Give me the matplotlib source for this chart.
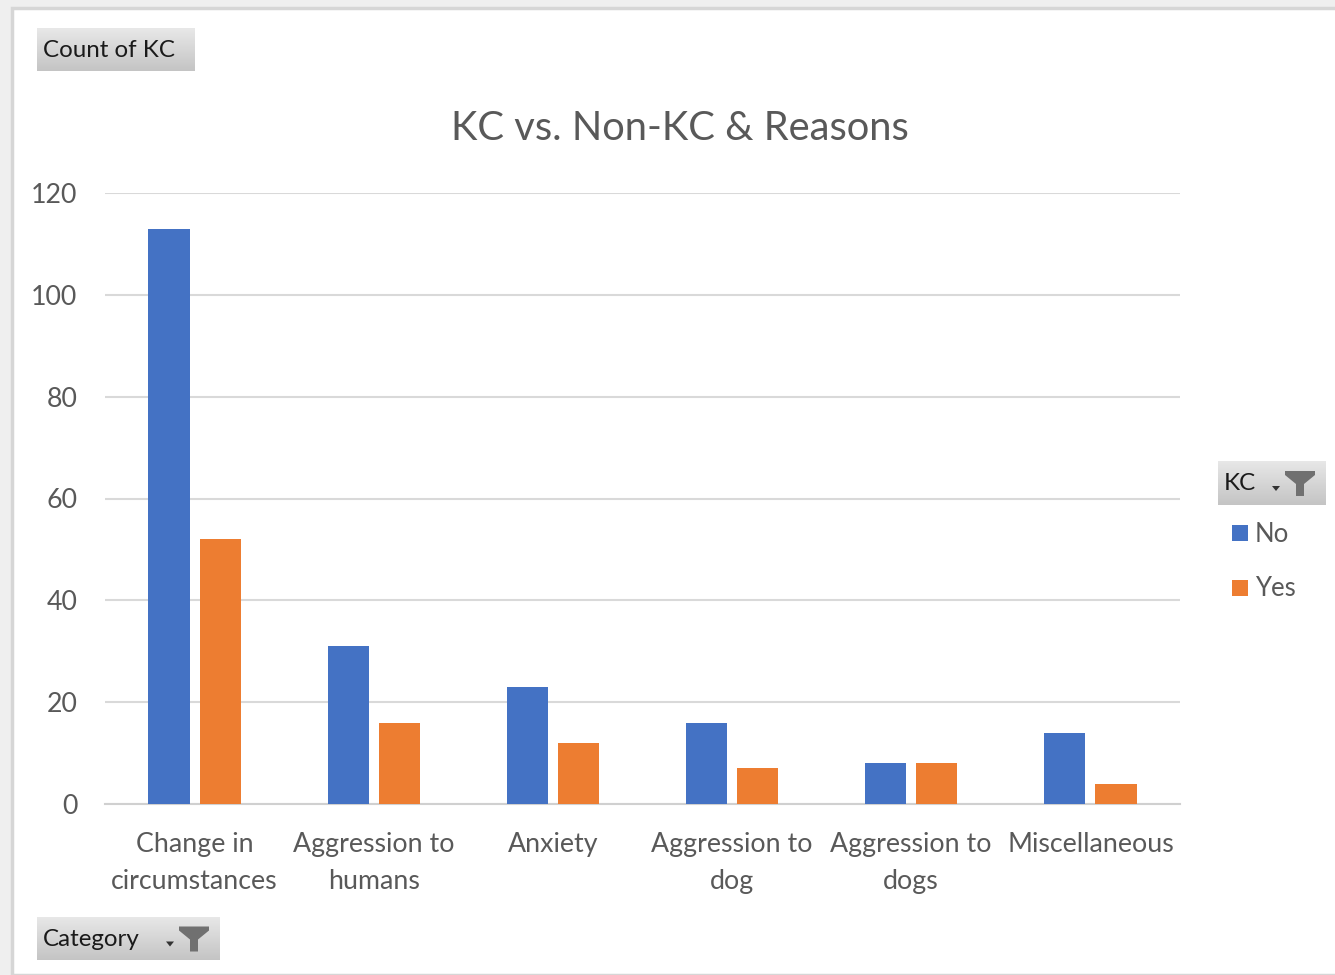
import numpy as np
import matplotlib

matplotlib.use("Agg")
import matplotlib.pyplot as plt
from matplotlib.patches import Rectangle, Polygon

plt.rcParams["font.family"] = ["Lato", "DejaVu Sans"]

categories = ["Change in\ncircumstances", "Aggression to\nhumans", "Anxiety",
              "Aggression to\ndog", "Aggression to\ndogs", "Miscellaneous"]
no_counts = [113, 31, 23, 16, 8, 14]
yes_counts = [52, 16, 12, 7, 8, 4]
series_names = ["No", "Yes"]
yticks = [0, 20, 40, 60, 80, 100, 120]

BLUE = "#4472C4"
ORANGE = "#ED7D31"
GREY_TXT = "#595959"

W, H = 1335, 975
fig = plt.figure(figsize=(W / 100, H / 100), dpi=100, facecolor="#efefef")


def fx(px):
    return px / W


def fy(py):
    return 1 - py / H


# white chart panel with light border (behind everything)
fig.patches.append(Rectangle((fx(12), 0), 1, fy(8), transform=fig.transFigure,
                             facecolor="white", edgecolor="#d6d6d6", linewidth=2.5,
                             zorder=-10))

ax = fig.add_axes([fx(105), fy(804), fx(1180) - fx(105), fy(193) - fy(804)])
x = np.arange(len(categories))
bw = 0.23
off = 0.143
ax.bar(x - off, no_counts, bw, color=BLUE, label=series_names[0], zorder=3)
ax.bar(x + off, yes_counts, bw, color=ORANGE, label=series_names[1], zorder=3)
ax.set_xlim(-0.5, len(categories) - 0.5)
ax.set_ylim(0, 120)
ax.set_yticks(yticks)
ax.set_xticks(x)
ax.set_xticklabels(categories, fontsize=19.3, color=GREY_TXT, linespacing=1.6)
ax.tick_params(axis="y", labelsize=19.3, labelcolor=GREY_TXT, length=0, pad=20)
ax.tick_params(axis="x", length=0, pad=20)
ax.grid(axis="y", color="#d9d9d9", linewidth=1.5, zorder=0)
for s in ["top", "right", "left"]:
    ax.spines[s].set_visible(False)
ax.spines["bottom"].set_color("#d0d0d0")
ax.spines["bottom"].set_linewidth(1.5)
ax.patch.set_alpha(0)

fig.text(fx(680), fy(129), "KC vs. Non-KC & Reasons", ha="center", va="center",
         fontsize=28.7, color=GREY_TXT)


def button(x0, y0, x1, y1, label, funnel=False):
    bax = fig.add_axes([fx(x0), fy(y1), fx(x1) - fx(x0), fy(y0) - fy(y1)])
    grad = np.linspace(0.91, 0.77, 50)[:, None]
    bax.imshow(np.dstack([grad, grad, grad]), aspect="auto", extent=[0, 1, 0, 1],
               origin="upper")
    bax.set_xlim(0, 1)
    bax.set_ylim(0, 1)
    bax.axis("off")
    fig.text(fx(x0 + 6), fy((y0 + y1) / 2 + 1), label, ha="left", va="center",
             fontsize=17.4, color="#1a1a1a", zorder=5)
    if funnel:
        cx = x1 - 26
        cy = (y0 + y1) / 2
        pts = [(cx - 15, cy - 12), (cx + 15, cy - 12), (cx + 15, cy - 8),
               (cx + 4, cy + 1), (cx + 4, cy + 13), (cx - 4, cy + 13),
               (cx - 4, cy + 1), (cx - 15, cy - 8)]
        fig.patches.append(Polygon([(fx(a), fy(b)) for a, b in pts],
                                   transform=fig.transFigure, facecolor="#707070",
                                   edgecolor="none", zorder=5))
        tx = cx - 24
        tri = [(tx - 4, cy + 3), (tx + 4, cy + 3), (tx, cy + 8)]
        fig.patches.append(Polygon([(fx(a), fy(b)) for a, b in tri],
                                   transform=fig.transFigure, facecolor="#333333",
                                   edgecolor="none", zorder=5))


button(37, 28, 195, 71, "Count of KC")
button(37, 917, 220, 960, "Category", funnel=True)
button(1218, 461, 1326, 505, "KC", funnel=True)

# legend entries
for py, col, name in [(533, BLUE, series_names[0]), (588, ORANGE, series_names[1])]:
    fig.patches.append(Rectangle((fx(1232), fy(py + 8)), fx(16), fy(0) - fy(16),
                                 transform=fig.transFigure, facecolor=col,
                                 edgecolor="none"))
    fig.text(fx(1255), fy(py + 1), name, ha="left", va="center", fontsize=18.5,
             color=GREY_TXT)

fig.savefig("out.png", dpi=100, facecolor=fig.get_facecolor())
